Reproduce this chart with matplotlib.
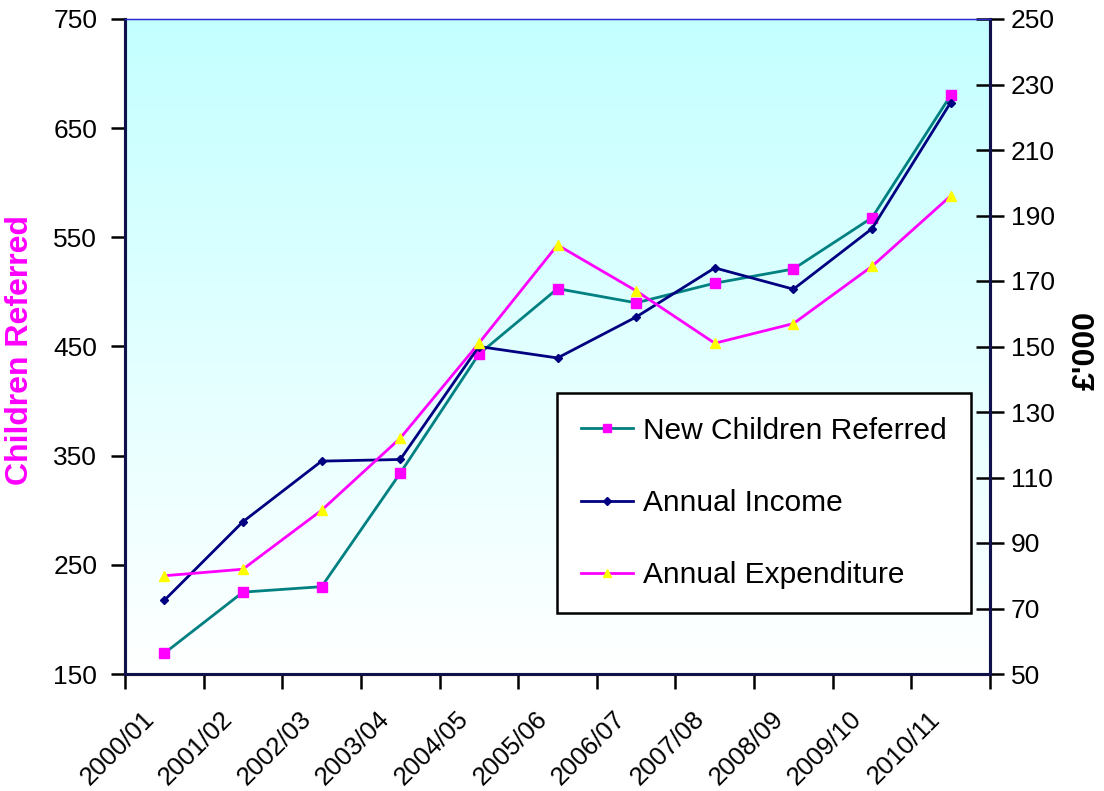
import numpy as np
import matplotlib
matplotlib.use("Agg")
import matplotlib.pyplot as plt
import matplotlib.transforms as mtransforms
from matplotlib.colors import LinearSegmentedColormap

plt.rcParams['font.family'] = ['Liberation Sans', 'DejaVu Sans']

years = ["2000/01", "2001/02", "2002/03", "2003/04", "2004/05", "2005/06",
         "2006/07", "2007/08", "2008/09", "2009/10", "2010/11"]
children_referred = [169, 225, 230, 334, 443, 503, 490, 508, 521, 568, 680]
annual_income = [72.5, 96.5, 115, 115.5, 150, 146.5, 159, 174, 167.5, 186, 224.5]
annual_expenditure = [80, 82, 100, 122, 151, 181, 167, 151, 157, 174.5, 196]

left_ticks = [150, 250, 350, 450, 550, 650, 750]
right_ticks = [50, 70, 90, 110, 130, 150, 170, 190, 210, 230, 250]

W, H = 1104, 791
fig = plt.figure(figsize=(W / 100, H / 100), dpi=100)
ax = fig.add_axes([125 / W, 1 - 674 / H, (990 - 125) / W, (674 - 19) / H])
ax2 = ax.twinx()

n = len(years)
x = np.arange(n)
ax.set_xlim(-0.5, n - 0.5)
ax.set_ylim(150, 750)
ax2.set_ylim(50, 250)

# gradient background
cmap = LinearSegmentedColormap.from_list("bg", ["#FFFFFF", "#C4FFFF"], N=256)
grad = np.linspace(0, 1, 256).reshape(-1, 1)
ax.imshow(grad, cmap=cmap, aspect='auto', origin='lower',
          extent=[-0.5, n - 0.5, 150, 750], zorder=0)

l1, = ax.plot(x, children_referred, color='#008080', lw=2.0, marker='s',
              markersize=6.5, markerfacecolor='#FF00FF', markeredgecolor='#FF00FF',
              label='New Children Referred', zorder=3)
l2, = ax2.plot(x, annual_income, color='#000080', lw=2.0, marker='D',
               markersize=4.5, markerfacecolor='#000080', markeredgecolor='#000080',
               label='Annual Income', zorder=3)
l3, = ax2.plot(x, annual_expenditure, color='#FF00FF', lw=2.0, marker='^',
               markersize=7, markerfacecolor='#FFFF00', markeredgecolor='#FFFF00',
               label='Annual Expenditure', zorder=3)

# x ticks at category boundaries, labels at centres
ax.set_xticks(np.arange(n + 1) - 0.5)
ax.set_xticklabels([])
ax.tick_params(axis='x', direction='out', length=11, width=1.8, color='black')
offset = mtransforms.ScaledTranslation(-14 / 100, -5 / 100, fig.dpi_scale_trans)
blend = mtransforms.blended_transform_factory(ax.transData, ax.transAxes)
for i, lab in enumerate(years):
    ax.text(i, -0.055, lab, transform=blend + offset,
            rotation=45, ha='right', va='center', rotation_mode='anchor',
            fontsize=18.5, color='black')

ax.set_yticks(left_ticks)
ax.set_yticklabels([str(v) for v in left_ticks], fontsize=19)
ax.tick_params(axis='y', direction='out', length=10, width=1.8, color='black', pad=10)
ax2.set_yticks(right_ticks)
ax2.set_yticklabels([str(v) for v in right_ticks], fontsize=19)
ax2.tick_params(axis='y', direction='inout', length=20, width=1.8, color='black', pad=5)

for a in (ax, ax2):
    for s in ('left', 'right', 'bottom'):
        a.spines[s].set_linewidth(2.2)
        a.spines[s].set_color('#10104a')
    a.spines['top'].set_linewidth(0.9)
    a.spines['top'].set_color('#2a2ad0')

ax.set_ylabel('Children Referred', color='#FF00FF', fontsize=23, fontweight='bold')
ax.yaxis.set_label_coords(-0.104, 0.4947)
ax2.set_ylabel("£'000", color='black', fontsize=23, fontweight='bold', rotation=90)
ax2.yaxis.set_label_coords(1.0948, 0.4947)

leg = ax2.legend(handles=[l1, l2, l3], loc='upper left',
                 bbox_to_anchor=(557 / W, 1 - 393 / H), bbox_transform=fig.transFigure,
                 borderaxespad=0, fontsize=21.5, frameon=True, fancybox=False,
                 edgecolor='black', facecolor='white', framealpha=1,
                 handlelength=1.75, handletextpad=0.33, labelspacing=1.48,
                 borderpad=0.8, markerscale=0.8)
leg.get_frame().set_linewidth(1.8)

fig.savefig('out.png', dpi=100)
